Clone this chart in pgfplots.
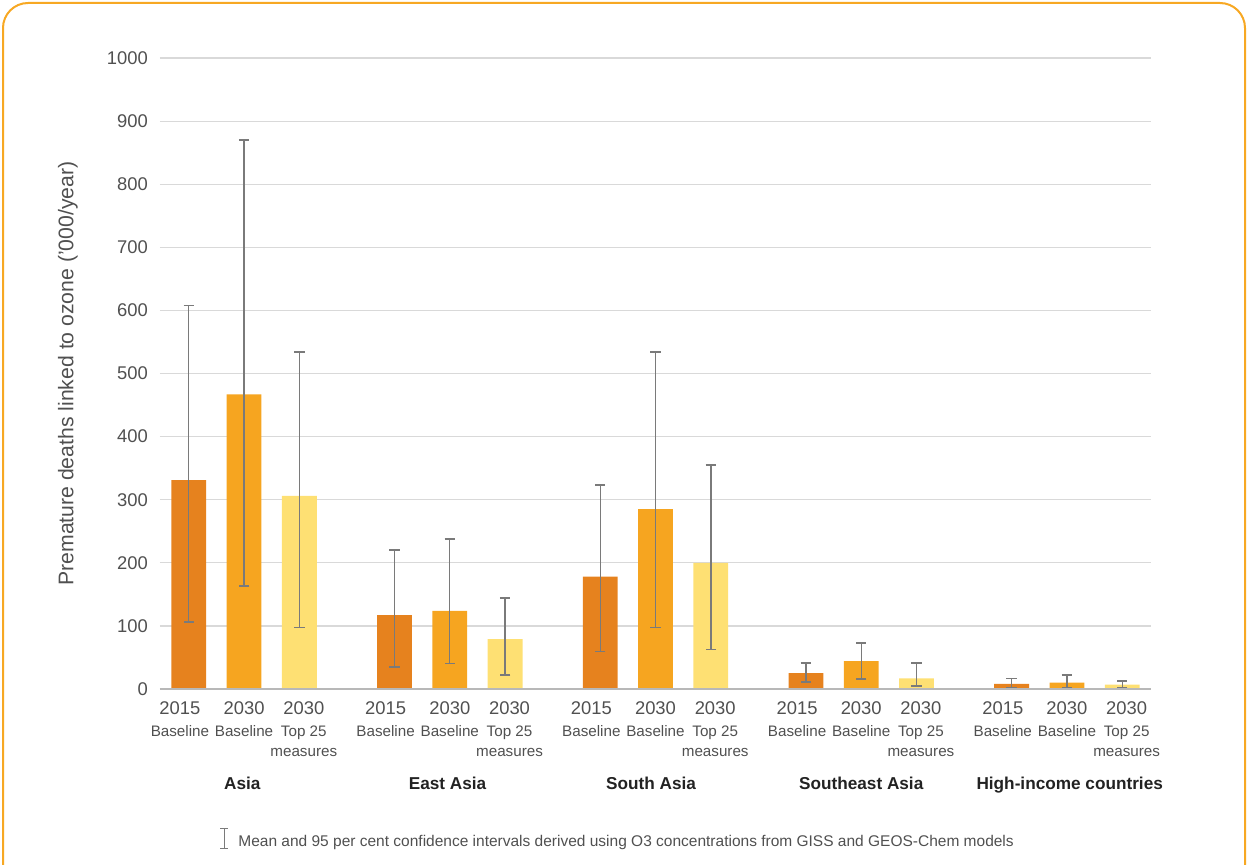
\documentclass[border=0pt]{standalone}
\usepackage{pgfplots}
\pgfplotsset{compat=1.18}
\usepackage{pgfplotstable}
\usepackage{fontspec}
\setmainfont{Liberation Sans}
\definecolor{cA}{HTML}{E6821E}
\definecolor{cB}{HTML}{F6A520}
\definecolor{cC}{HTML}{FEE073}
\definecolor{frame}{HTML}{F7A823}
\definecolor{txt}{HTML}{505050}
\definecolor{dtxt}{HTML}{222222}
\definecolor{errc}{HTML}{7A7A7A}
\definecolor{gridc}{HTML}{D9D9D9}

\pgfplotstableread{
x y ep em
0 331 277 225
3.72 117 103 82
7.44 178 145 119
11.16 25 16 14
14.88 8 9 6
}\tA
\pgfplotstableread{
x y ep em
1 467 403 304
4.72 124 114 84
8.44 285 249 188
12.16 44 29 28
15.88 10 12 8
}\tB
\pgfplotstableread{
x y ep em
2 306 228 209
5.72 79 65 57
9.44 200 155 137
13.16 17 24 12
16.88 7 6 5
}\tC

\newcommand{\sm}[1]{{\fontsize{7.6}{10}\selectfont #1}}
\begin{document}
\begin{tikzpicture}
\path[use as bounding box] (0,0) rectangle (624pt,432pt);
\draw[frame, line width=1pt, rounded corners=12.5pt] (1.5pt,-20pt) rectangle (622.5pt,430.5pt);
\begin{axis}[
  at={(80pt,87.5pt)}, anchor=south west,
  scale only axis, width=495.5pt, height=315.5pt,
  xmin=-0.52, xmax=17.4, ymin=0, ymax=1000,
  ytick={0,100,...,1000},
  xtick={-0.16,1,2.08,3.56,4.72,5.8,7.28,8.44,9.52,11.0,12.16,13.24,14.72,15.88,16.96},
  xticklabels={
   {2015\\[0pt]\sm{Baseline}},
   {2030\\[0pt]\sm{Baseline}},
   {2030\\[0pt]\sm{Top 25}\\[-1pt]\sm{measures}},
   {2015\\[0pt]\sm{Baseline}},
   {2030\\[0pt]\sm{Baseline}},
   {2030\\[0pt]\sm{Top 25}\\[-1pt]\sm{measures}},
   {2015\\[0pt]\sm{Baseline}},
   {2030\\[0pt]\sm{Baseline}},
   {2030\\[0pt]\sm{Top 25}\\[-1pt]\sm{measures}},
   {2015\\[0pt]\sm{Baseline}},
   {2030\\[0pt]\sm{Baseline}},
   {2030\\[0pt]\sm{Top 25}\\[-1pt]\sm{measures}},
   {2015\\[0pt]\sm{Baseline}},
   {2030\\[0pt]\sm{Baseline}},
   {2030\\[0pt]\sm{Top 25}\\[-1pt]\sm{measures}}
  },
  xticklabel style={align=center, font=\fontsize{9.2}{11}\selectfont, text=txt, anchor=north, yshift=-3pt},
  yticklabel style={font=\fontsize{9.2}{11}\selectfont, text=txt, xshift=-2.5pt},
  /pgf/number format/assume math mode=true,
  /pgf/number format/1000 sep={},
  major tick length=0pt,
  axis lines*=left,
  axis line style={draw=none},
  ymajorgrids, grid style={gridc, line width=0.6pt},
  ylabel={Premature deaths linked to ozone ('000/year)},
  ylabel style={at={(axis description cs:-0.0929,0.5)}, anchor=center, font=\fontsize{10.6}{12}\selectfont, text=txt},
  clip=false,
  ybar, bar width=0.63,
  error bars/y dir=both, error bars/y explicit,
  error bars/error bar style={errc, line width=0.7pt},
  error bars/error mark options={errc, rotate=90, mark size=2.6pt, line width=0.7pt},
]
\addplot[fill=cA, draw=none, bar shift=0pt] table[x=x, y=y, y error plus=ep, y error minus=em] {\tA};
\addplot[fill=cB, draw=none, bar shift=0pt] table[x=x, y=y, y error plus=ep, y error minus=em] {\tB};
\addplot[fill=cC, draw=none, bar shift=0pt] table[x=x, y=y, y error plus=ep, y error minus=em] {\tC};
\draw[gridc!85!black, line width=0.7pt] (axis cs:-0.52,0) -- (axis cs:17.4,0);
\tikzset{grp/.style={font=\bfseries\fontsize{8.6}{10}\selectfont, text=dtxt, yshift=-47pt, text height=1.6ex, text depth=0.4ex}}
\node[grp] at (axis cs:0.97,0) {Asia};
\node[grp] at (axis cs:4.68,0) {East Asia};
\node[grp] at (axis cs:8.36,0) {South Asia};
\node[grp] at (axis cs:12.16,0) {Southeast Asia};
\node[grp] at (axis cs:15.93,0) {High-income countries};
\end{axis}
\draw[errc, line width=0.5pt] (112pt,8pt) -- (112pt,18pt) (110pt,8pt) -- (114pt,8pt) (110pt,18pt) -- (114pt,18pt);
\node[anchor=west, inner sep=0pt, font=\fontsize{7.75}{9}\selectfont, text=txt] at (119pt,11pt) {Mean and 95 per cent confidence intervals derived using O3 concentrations from GISS and GEOS-Chem models};
\end{tikzpicture}
\end{document}
